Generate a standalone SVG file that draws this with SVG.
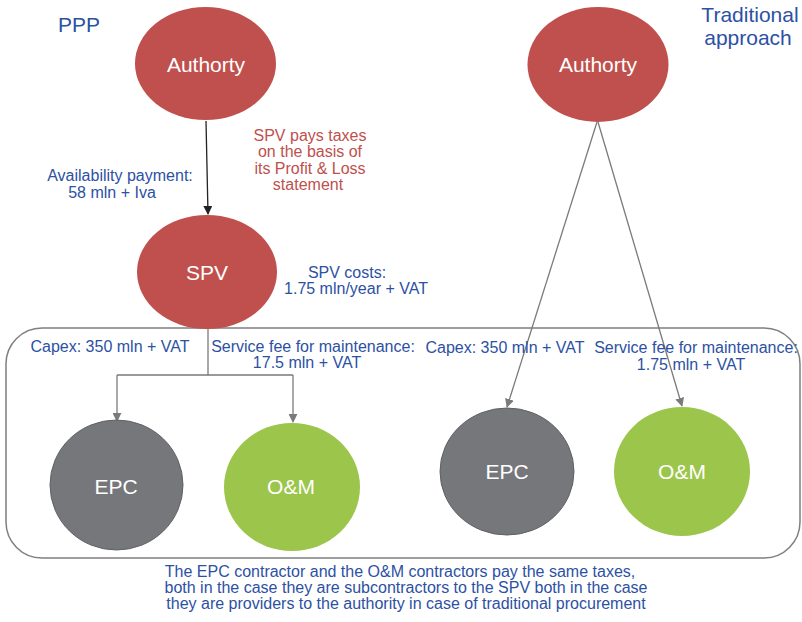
<svg xmlns="http://www.w3.org/2000/svg" width="802" height="622" viewBox="0 0 802 622">
  <style>
    text { font-family: "Liberation Sans", Arial, sans-serif; }
    .node-label { fill: #ffffff; font-size: 21px; text-anchor: middle; }
    .blue { fill: #2c51a3; font-size: 16px; }
    .title { fill: #2c51a3; font-size: 21px; }
    .red-note { fill: #c0504d; font-size: 16px; text-anchor: middle; }
    .mid { text-anchor: middle; }
    .red { fill: #c0504d; }
    .grey { fill: #76777b; stroke: #606165; stroke-width: 1; }
    .green { fill: #9cc54b; }
    .conn { fill: none; stroke: #7a7a7a; stroke-width: 1.3; }
    .conn-dark { fill: none; stroke: #222222; stroke-width: 1.3; }
    .frame { fill: none; stroke: #7f7f7f; stroke-width: 1.5; }
  </style>
  <defs>
    <marker id="arrow-grey" viewBox="0 0 10 10" refX="9" refY="5" markerWidth="9" markerHeight="9" markerUnits="userSpaceOnUse" orient="auto">
      <path d="M0,0 L10,5 L0,10 Z" fill="#7a7a7a"/>
    </marker>
    <marker id="arrow-dark" viewBox="0 0 10 10" refX="9" refY="5" markerWidth="9" markerHeight="9" markerUnits="userSpaceOnUse" orient="auto">
      <path d="M0,0 L10,5 L0,10 Z" fill="#222222"/>
    </marker>
  </defs>

  <rect width="802" height="622" fill="#ffffff"/>

  <!-- section frame around the contractors -->
  <rect class="frame" x="6" y="328" width="794" height="230" rx="36" ry="36"/>

  <!-- headings -->
  <text class="title" x="58" y="32">PPP</text>
  <text class="title mid" x="750" y="22">Traditional</text>
  <text class="title mid" x="748" y="45">approach</text>

  <!-- connectors -->
  <g id="connectors">
    <path class="conn-dark" d="M206,121 L208,214" marker-end="url(#arrow-dark)"/>
    <path class="conn" d="M208,329 L208,375 M117,375 L293,375"/>
    <path class="conn" d="M117,375 L117,421" marker-end="url(#arrow-grey)"/>
    <path class="conn" d="M293,375 L293,422" marker-end="url(#arrow-grey)"/>
    <path class="conn" d="M597,122 L507,407" marker-end="url(#arrow-grey)"/>
    <path class="conn" d="M598,122 L682,406" marker-end="url(#arrow-grey)"/>
  </g>

  <!-- PPP side -->
  <g id="ppp-authority">
    <ellipse class="red" cx="205.5" cy="63.5" rx="70.5" ry="56.5"/>
    <text class="node-label" x="206" y="72">Authorty</text>
  </g>
  <g id="ppp-spv">
    <ellipse class="red" cx="207" cy="272" rx="70" ry="57"/>
    <text class="node-label" x="207" y="280">SPV</text>
  </g>
  <g id="ppp-epc">
    <ellipse class="grey" cx="116.5" cy="485" rx="66.5" ry="65"/>
    <text class="node-label" x="116" y="494">EPC</text>
  </g>
  <g id="ppp-om">
    <ellipse class="green" cx="292" cy="487" rx="68" ry="64"/>
    <text class="node-label" x="291" y="494">O&amp;M</text>
  </g>

  <!-- Traditional side -->
  <g id="trad-authority">
    <ellipse class="red" cx="598" cy="64.5" rx="70.5" ry="57.5"/>
    <text class="node-label" x="598" y="72">Authorty</text>
  </g>
  <g id="trad-epc">
    <ellipse class="grey" cx="507" cy="471.5" rx="67" ry="63.5"/>
    <text class="node-label" x="507" y="479">EPC</text>
  </g>
  <g id="trad-om">
    <ellipse class="green" cx="682" cy="471.5" rx="68" ry="64.5"/>
    <text class="node-label" x="682" y="479">O&amp;M</text>
  </g>

  <!-- flow labels -->
  <text class="blue mid" x="120" y="181">Availability payment:</text>
  <text class="blue mid" x="112" y="198">58 mln + Iva</text>

  <text class="red-note" x="310" y="141">SPV pays taxes</text>
  <text class="red-note" x="310" y="157">on the basis of</text>
  <text class="red-note" x="310" y="174">its Profit &amp; Loss</text>
  <text class="red-note" x="308" y="190">statement</text>

  <text class="blue mid" x="347" y="278">SPV costs:</text>
  <text class="blue mid" x="356" y="294">1.75 mln/year + VAT</text>

  <text class="blue mid" x="110" y="352">Capex: 350 mln + VAT</text>
  <text class="blue mid" x="313" y="352">Service fee for maintenance:</text>
  <text class="blue mid" x="307" y="368">17.5 mln + VAT</text>

  <text class="blue mid" x="505" y="353">Capex: 350 mln + VAT</text>
  <text class="blue mid" x="696" y="353">Service fee for maintenance:</text>
  <text class="blue mid" x="691" y="370">1.75 mln + VAT</text>

  <!-- footnote -->
  <text class="blue mid" x="400" y="577">The EPC contractor and the O&amp;M contractors pay the same taxes,</text>
  <text class="blue mid" x="406" y="593">both in the case they are subcontractors to the SPV both in the case</text>
  <text class="blue mid" x="406" y="609">they are providers to the authority in case of traditional procurement</text>
</svg>
